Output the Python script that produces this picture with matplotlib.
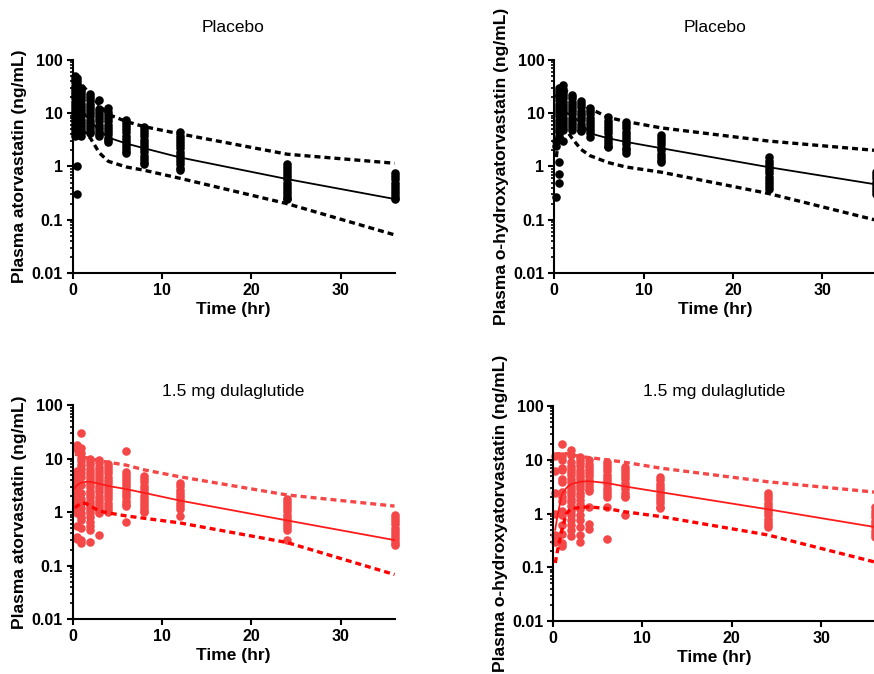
import numpy as np
import matplotlib
matplotlib.use('Agg')
import matplotlib.pyplot as plt
from matplotlib.ticker import FixedLocator, FixedFormatter, LogLocator, NullFormatter

plt.rcParams['font.family'] = ['Liberation Sans', 'DejaVu Sans']

# sampling times of the observed concentrations and of the simulated lines
obs_times = [0.25, 0.5, 1, 2, 3, 4, 6, 8, 12, 24, 36]
line_times = [0.25, 0.5, 1, 1.5, 2, 3, 4, 6, 8, 12, 24, 36]

# placebo, atorvastatin
pla_ator_obs = [
    [50, 44, 38, 33, 29, 25, 22, 19, 16.5, 14.5, 12.5, 11, 9.5, 8.3, 7.2, 6.3, 5.5, 4.8, 4.2, 3.8],
    [46, 40, 35, 30, 26, 23, 20, 17.5, 15, 13, 11.5, 10, 8.7, 7.5, 6.5, 5.7, 5, 4.4, 3.9, 1.0, 0.3],
    [30, 26, 23, 20, 17.5, 15, 13, 11.5, 10, 8.7, 7.5, 6.5, 5.7, 5, 4.4, 3.8],
    [23, 20, 17.5, 15, 13, 11.5, 10, 8.7, 7.5, 6.5, 5.7, 5, 4.4, 4.2],
    [18, 12, 10.5, 9.2, 8, 7, 6.1, 5.3, 4.6, 4.0, 3.7],
    [12.3, 10.7, 9.3, 8.1, 7, 6.1, 5.3, 4.6, 4, 3.5, 3.1, 2.9],
    [7.5, 6.5, 5.7, 5, 4.4, 3.8, 3.3, 2.9, 2.5, 2.2, 1.95, 1.8],
    [5.6, 4.9, 4.3, 3.7, 3.2, 2.8, 2.45, 2.15, 1.85, 1.6, 1.4, 1.22, 1.1],
    [4.4, 3.8, 3.3, 2.9, 2.5, 2.2, 1.9, 1.65, 1.45, 1.25, 1.1, 0.95, 0.87],
    [1.12, 0.98, 0.85, 0.74, 0.65, 0.57, 0.5, 0.43, 0.38, 0.33, 0.29, 0.26, 0.245],
    [0.74, 0.65, 0.57, 0.5, 0.43, 0.38, 0.33, 0.29, 0.26, 0.245],
]
pla_ator_med = [10, 14, 12, 9, 7, 4.8, 3.5, 2.7, 2.2, 1.48, 0.58, 0.245]
pla_ator_p95 = [40, 42, 35, 28, 22, 14, 9.5, 7.0, 5.6, 4.1, 1.7, 1.15]
pla_ator_p05 = [4, 5, 4.6, 4.2, 3.4, 1.8, 1.25, 0.98, 0.85, 0.6, 0.2, 0.052]

# placebo, o-hydroxyatorvastatin
pla_ohat_obs = [
    [0.27, 2.4, 3.0],
    [30, 26, 23, 20, 17.5, 15, 13, 11.5, 10, 8.7, 7.5, 6.5, 5.7, 5, 4.4, 3.8, 3.3, 1.2, 0.72, 0.5],
    [34, 29, 25, 22, 19, 16.5, 14.5, 12.5, 11, 9.5, 8.3, 7.2, 6.3, 5.5, 4.8, 3.0],
    [22, 19, 16.5, 14.5, 12.5, 11, 9.5, 8.3, 7.2, 6.3, 5.5, 4.8],
    [17, 14.8, 12.9, 11.2, 9.7, 8.5, 7.4, 6.4, 5.6, 4.9, 4.6],
    [12.6, 11, 9.5, 8.3, 7.2, 6.3, 5.5, 4.8, 4.2, 3.6],
    [8.4, 7.3, 6.4, 5.5, 4.8, 4.2, 3.6, 3.2, 2.8, 2.4, 2.3],
    [6.8, 5.9, 5.2, 4.5, 3.9, 3.4, 3.0, 2.6, 2.25, 2.0, 1.8],
    [3.9, 3.4, 3.0, 2.6, 2.25, 2.0, 1.7, 1.5, 1.3, 1.2],
    [1.48, 1.29, 1.12, 0.98, 0.85, 0.74, 0.64, 0.56, 0.49, 0.43, 0.38],
    [0.8, 0.7, 0.6, 0.52, 0.45, 0.39, 0.34, 0.3],
]
pla_ohat_med = [4.5, 7.5, 10, 10, 9, 6.5, 4.2, 3.4, 2.9, 2.2, 0.97, 0.46]
pla_ohat_p95 = [20, 26, 27, 25, 22, 16, 12.3, 8.4, 7.0, 5.3, 3.0, 2.0]
pla_ohat_p05 = [1.5, 3.5, 5.5, 4.5, 3.4, 2.1, 1.6, 1.19, 0.98, 0.78, 0.31, 0.098]

# 1.5 mg dulaglutide, atorvastatin
dula_ator_obs = [
    [],
    [18, 15, 6, 5, 4.2, 3.5, 2.8, 2.4, 2, 1.6, 1.3, 1.1, 0.95, 0.55, 0.35, 0.32],
    [30, 16, 13, 10.5, 9, 7.5, 6.3, 5.5, 4.5, 3.2, 2.3, 1.8, 1.5, 1.2, 0.95, 0.8, 0.7, 0.5, 0.3, 0.26],
    [10, 8.7, 7.5, 6.5, 5.7, 5, 4.4, 3.8, 3.3, 2.9, 2.5, 2.2, 1.9, 1.65, 1.45, 1.25, 1.1, 0.95,
     0.8, 0.65, 0.55, 0.47, 0.28],
    [9.4, 8.2, 7.1, 6.2, 5.4, 4.7, 4.1, 3.6, 3.1, 2.7, 2.35, 2.05, 1.8, 1.55, 1.35, 1.2, 1.05,
     0.95, 0.38],
    [8.1, 7.0, 6.1, 5.3, 4.6, 4.0, 3.5, 3.0, 2.6, 2.3, 2.0, 1.75, 1.5, 1.3, 1.15, 1.0],
    [14, 5.7, 5.0, 4.3, 3.8, 3.3, 2.9, 2.5, 2.2, 1.9, 1.65, 1.45, 1.3, 0.65],
    [4.7, 4.1, 3.6, 3.1, 2.7, 2.35, 2.05, 1.8, 1.55, 1.35, 1.2, 1.05, 1.0],
    [3.5, 3.05, 2.65, 2.3, 2.0, 1.75, 1.5, 1.3, 1.17, 0.85],
    [1.8, 1.57, 1.37, 1.2, 1.04, 0.9, 0.79, 0.69, 0.6, 0.52, 0.47, 0.3],
    [0.89, 0.78, 0.68, 0.59, 0.51, 0.45, 0.39, 0.34, 0.3, 0.26, 0.245],
]
dula_ator_med = [2.8, 3.2, 3.6, 3.7, 3.7, 3.4, 3.1, 2.7, 2.3, 1.65, 0.7, 0.3]
dula_ator_p95 = [12, 12, 11, 10.5, 10, 9.2, 8.6, 7.6, 6.2, 4.6, 2.1, 1.3]
dula_ator_p05 = [1.2, 1.3, 1.5, 1.45, 1.3, 1.05, 0.97, 0.85, 0.77, 0.63, 0.27, 0.068]

# 1.5 mg dulaglutide, o-hydroxyatorvastatin
dula_ohat_obs = [
    [12, 6.3, 2.4, 1.0, 0.4, 0.3],
    [],
    [20, 12, 10, 7, 6.5, 4.3, 3.9, 2.5, 2, 1.7, 1.1, 0.95, 0.62, 0.42, 0.28, 0.25],
    [15, 12.5, 9, 7.8, 6.8, 5.9, 5.1, 4.4, 3.8, 3.3, 2.9, 2.5, 2.2, 1.9, 1.65, 1.4, 1.1, 0.95,
     0.75, 0.6, 0.5, 0.38],
    [11.4, 9.9, 8.6, 7.5, 6.5, 5.7, 4.9, 4.3, 3.7, 3.2, 2.8, 2.4, 2.1, 1.8, 1.5, 1.2, 0.95,
     0.75, 0.55, 0.4, 0.3],
    [9.7, 8.4, 7.3, 6.4, 5.6, 4.9, 4.2, 3.7, 3.2, 2.8, 2.6, 1.35, 0.65, 0.52],
    [9.2, 8.0, 7.0, 6.1, 5.3, 4.6, 4.0, 3.5, 3.0, 2.6, 2.3, 2.0, 1.3, 0.34],
    [7.4, 6.4, 5.6, 4.9, 4.3, 3.7, 3.2, 2.8, 2.45, 2.15, 2.0, 0.93],
    [4.8, 4.2, 3.6, 3.1, 2.7, 2.35, 2.05, 1.8, 1.55, 1.35, 1.24],
    [2.43, 2.1, 1.85, 1.6, 1.4, 1.22, 1.06, 0.92, 0.8, 0.7, 0.6, 0.57],
    [1.3, 1.12, 0.97, 0.85, 0.73, 0.63, 0.55, 0.47, 0.41, 0.36],
]
dula_ohat_med = [0.5, 0.9, 2.3, 3.0, 3.5, 3.9, 4.0, 3.7, 3.2, 2.5, 1.2, 0.56]
dula_ohat_p95 = [12, 13, 13, 13, 12.5, 11.5, 11, 10, 9, 7, 3.9, 2.5]
dula_ohat_p05 = [0.12, 0.2, 0.5, 1.0, 1.22, 1.3, 1.33, 1.24, 1.08, 0.88, 0.4, 0.125]

black = ('black', 'black', 'black', 'black')
red = ('#f44848', '#ff1a1a', '#f44848', '#ff0000')


def draw_panel(ax, obs, med, p95, p05, title, ylabel, title_pad, colors):
    pt_col, med_col, hi_col, lo_col = colors
    for t, vals in zip(obs_times, obs):
        ax.scatter([t] * len(vals), vals, s=38, color=pt_col, linewidths=0,
                   zorder=2, clip_on=False)
    ax.plot(line_times, med, color=med_col, lw=1.3, zorder=3)
    ax.plot(line_times, p95, color=hi_col, lw=2.4, dashes=(1.8, 1.2), zorder=3)
    ax.plot(line_times, p05, color=lo_col, lw=2.4, dashes=(1.8, 1.2), zorder=3)

    ax.set_yscale('log')
    ax.set_ylim(0.01, 100)
    ax.set_xlim(0, 36)
    ax.yaxis.set_major_locator(FixedLocator([0.01, 0.1, 1, 10, 100]))
    ax.yaxis.set_major_formatter(FixedFormatter(['0.01', '0.1', '1', '10', '100']))
    ax.yaxis.set_minor_locator(LogLocator(base=10, subs=np.arange(2, 10)))
    ax.yaxis.set_minor_formatter(NullFormatter())
    ax.set_xticks([0, 10, 20, 30])

    for side in ['top', 'right']:
        ax.spines[side].set_visible(False)
    for side in ['left', 'bottom']:
        ax.spines[side].set_linewidth(1.5)
    ax.tick_params(which='major', direction='out', length=4, width=1.5,
                   labelsize=11.5, pad=3)
    ax.tick_params(which='minor', direction='out', length=2.5, width=1.2)
    for lab in ax.get_xticklabels() + ax.get_yticklabels():
        lab.set_fontweight('bold')

    ax.set_xlabel('Time (hr)', fontsize=12.5, fontweight='bold', labelpad=3)
    ax.set_ylabel(ylabel, fontsize=12.5, fontweight='bold', labelpad=3)
    ax.set_title(title, fontsize=12.5, pad=title_pad)


fig = plt.figure(figsize=(8.74, 6.74), dpi=100)
ax1 = fig.add_axes([0.083, 0.595, 0.3684, 0.316])
ax2 = fig.add_axes([0.634, 0.595, 0.3684, 0.316])
ax3 = fig.add_axes([0.083, 0.0816, 0.3684, 0.317])
ax4 = fig.add_axes([0.6327, 0.0786, 0.3684, 0.319])

draw_panel(ax1, pla_ator_obs, pla_ator_med, pla_ator_p95, pla_ator_p05,
           'Placebo', 'Plasma atorvastatin (ng/mL)', 20, black)
draw_panel(ax2, pla_ohat_obs, pla_ohat_med, pla_ohat_p95, pla_ohat_p05,
           'Placebo', 'Plasma o-hydroxyatorvastatin (ng/mL)', 20, black)
draw_panel(ax3, dula_ator_obs, dula_ator_med, dula_ator_p95, dula_ator_p05,
           '1.5 mg dulaglutide', 'Plasma atorvastatin (ng/mL)', 7, red)
draw_panel(ax4, dula_ohat_obs, dula_ohat_med, dula_ohat_p95, dula_ohat_p05,
           '1.5 mg dulaglutide', 'Plasma o-hydroxyatorvastatin (ng/mL)', 7, red)

fig.savefig('out.png', dpi=100)
